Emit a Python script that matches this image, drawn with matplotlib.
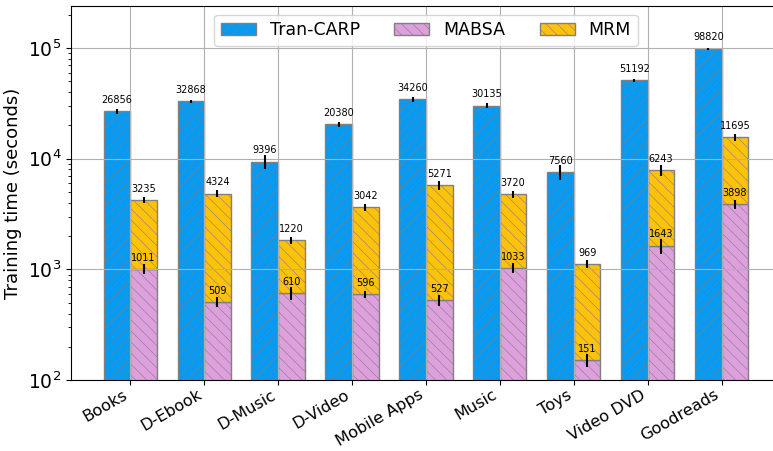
"""
Время обучения моделей по наборам данных (лог. шкала).
"""

import matplotlib

matplotlib.use('Agg')
import matplotlib.pyplot as plt
import numpy as np

datasets = ["Books", "D-Ebook", "D-Music", "D-Video", "Mobile Apps",
            "Music", "Toys", "Video DVD", "Goodreads"]

tran_carp = [26856, 32868, 9396, 20380, 34260, 30135, 7560, 51192, 98820]
mabsa = [1011, 509, 610, 596, 527, 1033, 151, 1643, 3898]
mrm = [3235, 4324, 1220, 3042, 5271, 3720, 969, 6243, 11695]

# разброс по запускам (стандартное отклонение), секунды
tran_carp_err = [1400, 1100, 1300, 1100, 1800, 1600, 1190, 1800, 2000]
mabsa_err = [100, 55, 80, 48, 60, 100, 20, 250, 380]
mrm_err = [300, 360, 140, 250, 540, 330, 100, 950, 1100]

BLUE = "#069AF3"
PINK = "#DDA0DD"
YELLOW = "#FFC20A"


def set_plot_style() -> None:
    plt.rcParams["font.family"] = "DejaVu Sans"
    plt.rcParams["hatch.linewidth"] = 0.4
    plt.rcParams["figure.dpi"] = 100


def add_labels(ax, xs, tops, values):
    for xc, top, v in zip(xs, tops, values):
        ax.annotate(
            f"{v}", (xc, top),
            xytext=(0, 4.5), textcoords="offset points",
            ha="center", va="bottom", fontsize=7
        )


set_plot_style()

fig = plt.figure(figsize=(7.73, 4.51))
ax = fig.add_axes([0.092, 0.157, 0.918, 0.830])

x = np.arange(len(datasets))
width = 0.36
x_left = x - width / 2
x_right = x + width / 2

mabsa_arr = np.array(mabsa)
mrm_top = mabsa_arr + np.array(mrm)

ax.bar(
    x, tran_carp, -width, align="edge",
    color=BLUE, edgecolor="gray", linewidth=1, hatch="///",
    label="Tran-CARP"
)
ax.bar(
    x, mabsa, width, align="edge",
    color=PINK, edgecolor="gray", linewidth=1, hatch="\\\\\\",
    label="MABSA"
)
ax.bar(
    x, mrm, width, bottom=mabsa, align="edge",
    color=YELLOW, edgecolor="gray", linewidth=1, hatch="\\\\\\",
    label="MRM"
)

ax.errorbar(x_left, tran_carp, yerr=tran_carp_err,
            fmt="none", ecolor="black", elinewidth=1.5, capsize=0)
ax.errorbar(x_right, mabsa, yerr=mabsa_err,
            fmt="none", ecolor="black", elinewidth=1.5, capsize=0)
ax.errorbar(x_right, mrm_top, yerr=mrm_err,
            fmt="none", ecolor="black", elinewidth=1.5, capsize=0)

add_labels(ax, x_left, tran_carp, tran_carp)
add_labels(ax, x_right, mabsa, mabsa)
add_labels(ax, x_right, mrm_top, mrm)

ax.set_yscale("log")
ax.set_ylim(100, 2.4e5)
ax.set_xlim(-0.8, len(datasets) - 0.2)

ax.set_xticks(x)
ax.set_xticklabels(datasets, rotation=30, ha="right", fontsize=11.6)
ax.tick_params(axis="x", pad=1.5)
ax.tick_params(axis="y", labelsize=13.5)
ax.set_ylabel("Training time (seconds)", fontsize=13)
ax.grid(True)

ax.legend(loc="upper center", ncol=3, fontsize=12.5, columnspacing=2.0)

plt.savefig("out.png", dpi=100)
plt.close(fig)
